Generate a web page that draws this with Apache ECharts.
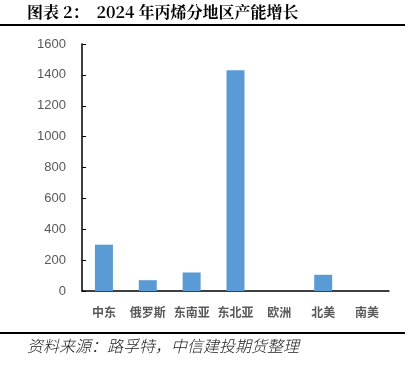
<!DOCTYPE html>
<html><head><meta charset="utf-8">
<script src="https://cdn.jsdelivr.net/npm/echarts@6/dist/echarts.min.js"></script>
<style>html,body{margin:0;padding:0;background:#fff}#c{width:412px;height:369px}</style>
</head><body><div id="c"></div>
<script>
const categories = ['中东','俄罗斯','东南亚','东北亚','欧洲','北美','南美'];
const capacityGrowth = [300, 70, 120, 1430, 0, 105, 0];
const yTicks = [0, 200, 400, 600, 800, 1000, 1200, 1400, 1600];

const chart = echarts.init(document.getElementById('c'));
chart.setOption({
  animation: false,
  backgroundColor: '#fff',
  grid: {left: 82, right: 23, top: 44, bottom: 78},
  xAxis: {
    type: 'category', data: categories,
    axisLine: {lineStyle: {color: '#000', width: 1.5}},
    axisTick: {show: false},
    axisLabel: {color: '#595959', fontWeight: 'bold', fontSize: 12, margin: 15, fontFamily: 'Noto Sans CJK SC', interval: 0}
  },
  yAxis: {
    type: 'value', min: yTicks[0], max: yTicks[yTicks.length-1], interval: 200,
    axisLine: {show: true, lineStyle: {color: '#000', width: 1.5}},
    axisTick: {show: true, inside: true, length: 4, lineStyle: {color: '#000'}},
    splitLine: {show: false},
    axisLabel: {color: '#595959', fontSize: 13, margin: 16, fontFamily: 'Liberation Sans', formatter: v => String(v)}
  },
  series: [{
    type: 'bar', data: capacityGrowth, barWidth: 18,
    itemStyle: {color: '#5B9BD5'}
  }],
  graphic: [
    {type: 'text', left: 27, top: 4, style: {text: '图表 2：  2024 年丙烯分地区产能增长', font: 'bold 16px "Noto Serif CJK SC", "Noto Sans CJK SC", serif', fill: '#000'}},
    {type: 'rect', shape: {x: 0, y: 24, width: 405, height: 2}, style: {fill: '#000'}},
    {type: 'rect', shape: {x: 0, y: 332, width: 405, height: 2}, style: {fill: '#000'}},
    {type: 'text', left: 27, top: 338, style: {text: '资料来源：路孚特，中信建投期货整理', font: 'italic 300 16px "Noto Sans CJK SC", sans-serif', fill: '#222'}}
  ]
});
</script></body></html>
